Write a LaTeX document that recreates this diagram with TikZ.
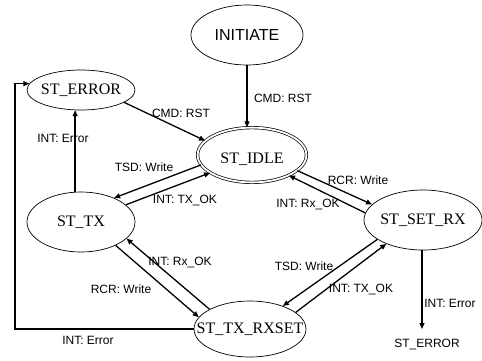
\documentclass[tikz,border=0pt]{standalone}
\usepackage{fontspec}
\setmainfont{Liberation Serif}
\setsansfont{Liberation Sans}
\usetikzlibrary{arrows.meta,shapes.geometric,calc}
\begin{document}
\begin{tikzpicture}[x=1pt,y=-1pt,
  state/.style={draw, ellipse, line width=0.7pt, inner sep=0pt, font=\fontsize{16}{16}\selectfont},
  lbl/.style={font=\sffamily\fontsize{12}{12}\selectfont, inner sep=0pt},
  arr/.style={line width=1.3pt, -{Triangle[length=6pt,width=5pt]}},
]
\useasboundingbox (0,0) rectangle (482,360);
% states
\node[state, minimum width=112pt, minimum height=60pt, font=\sffamily\fontsize{16}{16}\selectfont] (init) at (247,35) {\makebox[0pt]{INITIATE}};
\node[state, minimum width=108pt, minimum height=40pt] (err) at (81,90) {\makebox[0pt]{ST\_ERROR}};
\node[state, double, double distance=1.8pt, minimum width=108.8pt, minimum height=54.8pt,
      label={[font=\fontsize{16}{16}\selectfont, yshift=-4pt]center:ST\_IDLE}] (idle) at (252,155) {};
\node[state, minimum width=108pt, minimum height=60pt] (tx) at (81,222) {\makebox[0pt]{ST\_TX}};
\node[state, minimum width=118pt, minimum height=60pt] (setrx) at (423,220) {\makebox[0pt]{ST\_SET\_RX}};
\node[state, minimum width=112pt, minimum height=56pt] (txrx) at (250,329) {\makebox[0pt]{ST\_TX\_RXSET}};
\node[lbl] (errtxt) at (427,344) {ST\_ERROR};
\coordinate (errend) at (422,329);
\coordinate (loop) at (15,0);
% connectors
\draw[arr] (init.south) -- (init.south |- idle.north);
\draw[arr] (err.344) -- (idle.163);
\draw[arr] (tx.101) -- (tx.101 |- err.253);
\draw[arr] (idle.191) -- (tx.36);
\draw[arr] (tx.21) -- (idle.203);
\draw[arr] (idle.341) -- (setrx.163);
\draw[arr] (setrx.173) -- (idle.331);
\draw[arr] (txrx.154) -- (tx.340);
\draw[arr] (tx.326) -- (txrx.167);
\draw[arr] (setrx.203) -- (txrx.35);
\draw[arr] (txrx.20) -- (setrx.213);
\draw[arr] (setrx.south -| errend) -- (errend);
\draw[arr] (txrx.west) -| (loop |- err.173) -- (err.173);
% labels
\node[lbl] (l1) at (283,98) {CMD: RST};
\node[lbl] (l2) at (181,113) {CMD: RST};
\node[lbl] (l3) at (63,138) {INT: Error};
\node[lbl] (l4) at (144,167) {TSD: Write};
\node[lbl] (l5) at (185,200) {INT: TX\_OK};
\node[lbl] (l6) at (358,180) {RCR: Write};
\node[lbl] (l7) at (308,204) {INT: Rx\_OK};
\node[lbl] (l8) at (180,262) {INT: Rx\_OK};
\node[lbl] (l9) at (121,289) {RCR: Write};
\node[lbl] (l10) at (304,266) {TSD: Write};
\node[lbl] (l11) at (361,289) {INT: TX\_OK};
\node[lbl] (l12) at (450,303) {INT: Error};
\node[lbl] (l13) at (88,340) {INT: Error};
\end{tikzpicture}
\end{document}
